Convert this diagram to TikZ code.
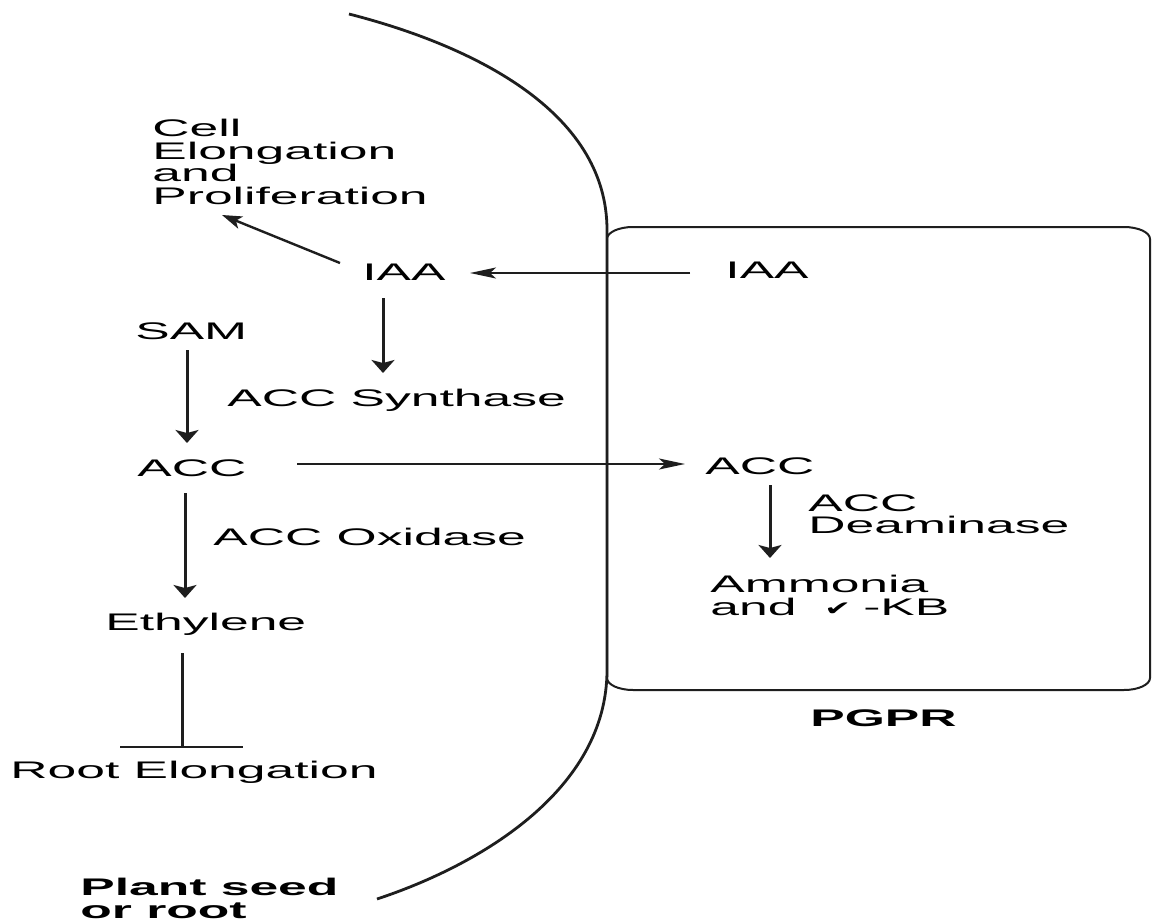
\documentclass[tikz,border=0pt]{standalone}
\usepackage{fontspec}
\setmainfont{Liberation Sans}[FakeStretch=2.15]
\newfontfamily\symf{DejaVu Sans}[FakeStretch=1.6]
\usetikzlibrary{arrows.meta}
\definecolor{ink}{HTML}{1E1E1E}
\begin{document}
\begin{tikzpicture}[x=0.5pt,y=-0.5pt,
  lbl/.style={inner sep=0pt, font=\fontsize{12}{11.25}\selectfont, anchor=base west},
  blk/.style={lbl, anchor=north west, align=left},
  varrow/.style={draw=ink, line width=1.5pt, -{Stealth[length=6.5pt,width=11.5pt,inset=1.5pt]}},
  harrow/.style={draw=ink, line width=1pt, -{Stealth[length=13pt,width=5.5pt,inset=3pt]}},
  darrow/.style={draw=ink, line width=1.2pt, -{Stealth[length=10pt,width=6.5pt,inset=2.5pt]}},
  vline/.style={draw=ink, line width=1.5pt},
  hline/.style={draw=ink, line width=1pt},
  membrane/.style={draw=ink, line width=1.4pt},
  cellbox/.style={draw=ink, line width=1pt}]
\useasboundingbox (0,0) rectangle (1152,921);
\fill[white] (0,0) rectangle (1152,921);

% plant seed / root outline
\draw[membrane] (349,14) .. controls (470,45) and (607,110) .. (607,230)
  -- (607,670) .. controls (607,790) and (480,865) .. (377,899);

% PGPR box
\draw[cellbox] (633,227) -- (1124,227) .. controls (1138.4,227) and (1150,232.4) .. (1150,239)
  -- (1150,678) .. controls (1150,684.6) and (1138.4,690) .. (1124,690)
  -- (633,690) .. controls (618.6,690) and (607,684.6) .. (607,678)
  -- (607,239) .. controls (607,232.4) and (618.6,227) .. (633,227) -- cycle;

% labels
\node[blk] (cell) at (152,119) {Cell\\Elongation\\and\\Proliferation};
\node[lbl] (iaaL) at (362,280) {IAA};
\node[lbl] (iaaR) at (725,278) {IAA};
\node[lbl] (sam) at (135,339) {SAM};
\node[lbl] (accsyn) at (227,406) {ACC Synthase};
\node[lbl] (accL) at (137,476) {ACC};
\node[lbl] (accR) at (705,474) {ACC};
\node[blk] (accdeam) at (808,494) {ACC\\Deaminase};
\node[blk] (ammonia) at (710,575) {Ammonia\\and\hspace{14pt}{\symf\fontsize{10}{10}\selectfont ✔}\hspace{6pt}-KB};
\node[lbl] (accox) at (213,545) {ACC Oxidase};
\node[lbl] (eth) at (105,630) {Ethylene};
\node[lbl] (root) at (10,778) {Root Elongation};
\node[lbl, font=\fontsize{12}{11.25}\selectfont\bfseries] (pgpr) at (810,726) {PGPR};
\node[blk, font=\fontsize{12}{11.5}\selectfont\bfseries] (plant) at (80,878) {Plant seed\\or root};

% connectors
\draw[harrow] ([shift={(-35,-5)}]iaaR.base west) -- ([shift={(108,-7)}]iaaL.base west);
\draw[darrow] ([shift={(-22,-17)}]iaaL.base west) -- ([shift={(70,96)}]cell.north west);
\draw[varrow] ([shift={(21,18)}]iaaL.base west) -- ([shift={(156,-33)}]accsyn.base west);
\draw[varrow] ([shift={(52,11)}]sam.base west) -- ([shift={(50,-33)}]accL.base west);
\draw[harrow] ([shift={(160,-12)}]accL.base west) -- ([shift={(-20,-10)}]accR.base west);
\draw[varrow] ([shift={(65,11)}]accR.base west) -- ([shift={(60,-17)}]ammonia.north west);
\draw[varrow] ([shift={(48,17)}]accL.base west) -- ([shift={(80,-32)}]eth.base west);
\draw[vline] ([shift={(77,23)}]eth.base west) -- ([shift={(172,-31)}]root.base west) coordinate (inh);
\draw[hline] ([shift={(-62,0)}]inh) -- ([shift={(61,0)}]inh);
\end{tikzpicture}
\end{document}
